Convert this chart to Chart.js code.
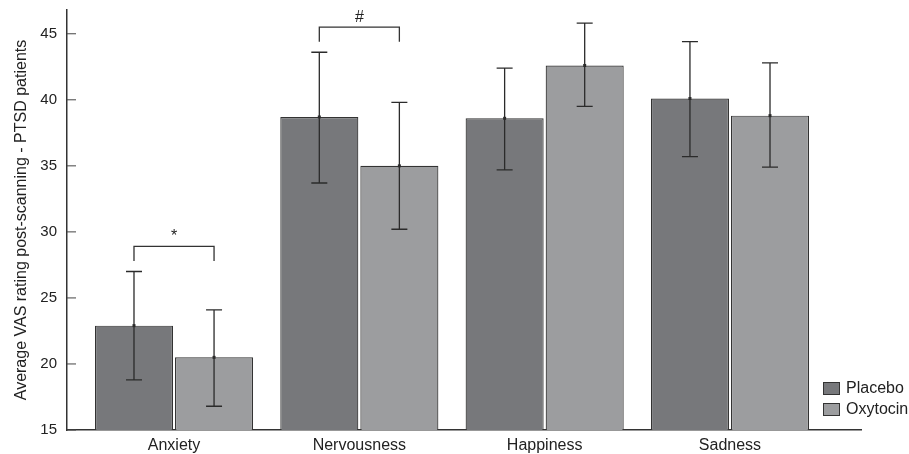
<!DOCTYPE html>
<html lang="en">
<head>
    <meta charset="UTF-8">
    <title>VAS ratings - PTSD patients</title>
    <style>
        html, body {
            margin: 0;
            padding: 0;
            background: #fff;
        }
        .wrap {
            width: 909px;
            height: 454px;
        }
    </style>
    <script src="https://cdn.jsdelivr.net/npm/chart.js"></script>
</head>
<body>
    <div class="wrap">
        <canvas id="vasChart" width="909" height="454"></canvas>
    </div>

    <script>
        // data
        const categories = ['Anxiety', 'Nervousness', 'Happiness', 'Sadness'];
        const seriesNames = ['Placebo', 'Oxytocin'];
        const placebo = [22.9, 38.7, 38.6, 40.1];
        const placeboLow = [18.8, 33.7, 34.7, 35.7];
        const placeboHigh = [27.0, 43.6, 42.4, 44.4];
        const oxytocin = [20.5, 35.0, 42.6, 38.8];
        const oxytocinLow = [16.8, 30.2, 39.5, 34.9];
        const oxytocinHigh = [24.1, 39.8, 45.8, 42.8];
        const yTicks = [15, 20, 25, 30, 35, 40, 45];

        // significance brackets: category index, top value, leg bottom value, mark
        const brackets = [
            { cat: 0, top: 28.9, bottom: 27.8, mark: '*' },
            { cat: 1, top: 45.5, bottom: 44.4, mark: '#' }
        ];

        const placeboColor = '#77787b';
        const oxytocinColor = '#9c9d9f';
        const inkColor = '#2b2b2b';
        const fontFamily = '"Liberation Sans", Arial, sans-serif';

        const toPoints = vals => vals.map((v, i) => ({ x: i + 1, y: v }));

        // error bars + inward y ticks + brackets + legend
        const extrasPlugin = {
            id: 'extras',
            afterDatasetsDraw(chart) {
                const ctx = chart.ctx;
                const xs = chart.scales.x;
                const ys = chart.scales.y;
                const lows = [placeboLow, oxytocinLow];
                const highs = [placeboHigh, oxytocinHigh];
                const means = [placebo, oxytocin];

                ctx.save();
                ctx.strokeStyle = inkColor;
                ctx.fillStyle = inkColor;
                ctx.lineWidth = 1.3;

                // error bars
                chart.data.datasets.forEach((ds, d) => {
                    const meta = chart.getDatasetMeta(d);
                    meta.data.forEach((bar, i) => {
                        const x = bar.x;
                        const yl = ys.getPixelForValue(lows[d][i]);
                        const yh = ys.getPixelForValue(highs[d][i]);
                        const ym = ys.getPixelForValue(means[d][i]);
                        ctx.beginPath();
                        ctx.moveTo(x, yl);
                        ctx.lineTo(x, yh);
                        ctx.moveTo(x - 8, yl);
                        ctx.lineTo(x + 8, yl);
                        ctx.moveTo(x - 8, yh);
                        ctx.lineTo(x + 8, yh);
                        ctx.stroke();
                        ctx.fillRect(x - 1.5, ym - 1.5, 3, 3);
                    });
                });

                // inward tick marks on the y axis
                ctx.lineWidth = 1;
                ctx.strokeStyle = '#444';
                yTicks.forEach(t => {
                    const y = ys.getPixelForValue(t);
                    ctx.beginPath();
                    ctx.moveTo(xs.left, y);
                    ctx.lineTo(xs.left + 9, y);
                    ctx.stroke();
                });

                // brackets
                ctx.lineWidth = 1.3;
                ctx.strokeStyle = '#333';
                ctx.font = '16px ' + fontFamily;
                ctx.textAlign = 'center';
                ctx.textBaseline = 'alphabetic';
                brackets.forEach(b => {
                    const x1 = chart.getDatasetMeta(0).data[b.cat].x;
                    const x2 = chart.getDatasetMeta(1).data[b.cat].x;
                    const yt = ys.getPixelForValue(b.top);
                    const yb = ys.getPixelForValue(b.bottom);
                    ctx.beginPath();
                    ctx.moveTo(x1, yb);
                    ctx.lineTo(x1, yt);
                    ctx.lineTo(x2, yt);
                    ctx.lineTo(x2, yb);
                    ctx.stroke();
                    ctx.fillStyle = '#222';
                    ctx.fillText(b.mark, (x1 + x2) / 2, yt - 5);
                });

                // legend, bottom right
                const colors = [placeboColor, oxytocinColor];
                ctx.textAlign = 'left';
                ctx.textBaseline = 'middle';
                ctx.font = '16px ' + fontFamily;
                seriesNames.forEach((name, k) => {
                    const top = 382 + k * 21;
                    ctx.fillStyle = colors[k];
                    ctx.fillRect(823, top, 17, 13);
                    ctx.strokeStyle = '#333';
                    ctx.lineWidth = 1;
                    ctx.strokeRect(823.5, top + 0.5, 16, 12);
                    ctx.fillStyle = '#222';
                    ctx.fillText(name, 846, top + 7);
                });

                ctx.restore();
            }
        };

        const ctx = document.getElementById('vasChart').getContext('2d');
        const vasChart = new Chart(ctx, {
            type: 'bar',
            data: {
                datasets: [{
                    label: seriesNames[0],
                    data: toPoints(placebo),
                    backgroundColor: placeboColor,
                    borderColor: '#333',
                    borderWidth: 1.2,
                    barPercentage: 0.975,
                    categoryPercentage: 0.864
                }, {
                    label: seriesNames[1],
                    data: toPoints(oxytocin),
                    backgroundColor: oxytocinColor,
                    borderColor: '#333',
                    borderWidth: 1.2,
                    barPercentage: 0.975,
                    categoryPercentage: 0.864
                }]
            },
            options: {
                responsive: false,
                animation: false,
                layout: {
                    padding: { left: 12, right: 48, top: 10, bottom: 0 }
                },
                scales: {
                    x: {
                        type: 'linear',
                        offset: false,
                        min: 0.4225,
                        max: 4.707,
                        afterBuildTicks(scale) {
                            scale.ticks = categories.map((c, i) => ({ value: i + 1 }));
                        },
                        afterFit(scale) {
                            scale.height = 24;
                            scale.paddingLeft = 0;
                            scale.paddingRight = 0;
                        },
                        grid: { display: false, drawTicks: false },
                        border: { display: true, color: '#333', width: 1.5 },
                        ticks: {
                            callback: v => categories[v - 1] || '',
                            color: '#222',
                            font: { family: fontFamily, size: 16 },
                            padding: 6,
                            maxRotation: 0
                        }
                    },
                    y: {
                        min: 15,
                        max: 46.8,
                        afterBuildTicks(scale) {
                            scale.ticks = yTicks.map(v => ({ value: v }));
                        },
                        afterFit(scale) {
                            scale.width = 55;
                            scale.paddingTop = 0;
                            scale.paddingBottom = 0;
                        },
                        grid: { display: false, drawTicks: false },
                        border: { display: true, color: '#333', width: 1.5 },
                        ticks: {
                            color: '#222',
                            font: { family: fontFamily, size: 15 },
                            padding: 10
                        },
                        title: {
                            display: true,
                            text: 'Average VAS rating post-scanning - PTSD patients',
                            color: '#222',
                            font: { family: fontFamily, size: 16 },
                            padding: { top: 0, bottom: 0 }
                        }
                    }
                },
                plugins: {
                    legend: { display: false },
                    tooltip: { enabled: false }
                }
            },
            plugins: [extrasPlugin]
        });
    </script>
</body>
</html>
